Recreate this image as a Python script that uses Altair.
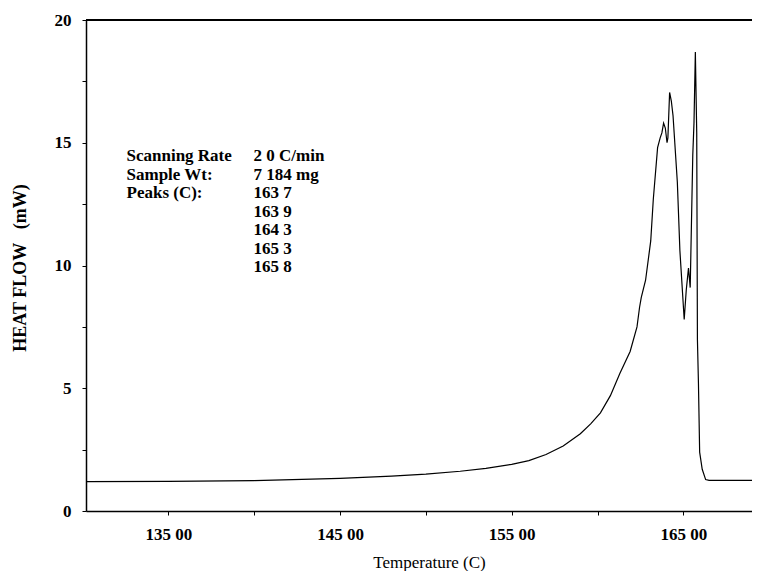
import altair as alt
import pandas as pd

# DSC trace
temperature = [130.2, 135.0, 140.0, 145.0, 148.0, 150.0, 152.0, 153.5, 155.0, 156.0,
               157.0, 158.0, 159.0, 159.6, 160.17, 160.75, 161.3, 161.9, 162.3, 162.45,
               162.55, 162.8, 163.1, 163.25, 163.5, 163.65, 163.75, 163.85, 163.95, 164.05,
               164.1, 164.2, 164.3, 164.4, 164.65, 164.8, 165.05, 165.17, 165.3, 165.4,
               165.55, 165.62, 165.7, 165.78, 165.82, 165.88, 165.95, 166.1, 166.3, 166.5,
               169.0]
heat_flow = [1.20, 1.21, 1.24, 1.33, 1.42, 1.50, 1.62, 1.74, 1.90, 2.05,
             2.30, 2.65, 3.15, 3.55, 4.0, 4.7, 5.6, 6.5, 7.5, 8.3,
             8.7, 9.4, 11.0, 12.7, 14.8, 15.2, 15.4, 15.8, 15.6, 15.0,
             15.2, 17.05, 16.7, 16.1, 13.4, 10.6, 7.8, 9.0, 9.9, 9.1,
             14.5, 15.8, 18.7, 15.4, 7.0, 5.2, 2.4, 1.7, 1.28, 1.25,
             1.25]

x_ticks = [135, 140, 145, 150, 155, 160, 165]
y_ticks = [0, 2.5, 5, 7.5, 10, 12.5, 15, 17.5, 20]

info_left = ["Scanning Rate", "Sample Wt:", "Peaks (C):", "", "", "", ""]
info_right = ["2 0 C/min", "7 184 mg", "163 7", "163 9", "164 3", "165 3", "165 8"]

W, H = 666, 491
X_DOMAIN = [130.2, 169.0]
Y_DOMAIN = [0, 20]
FONT = "Liberation Serif"

curve = pd.DataFrame({"T": temperature, "HF": heat_flow})

row_top = 14.45
row_step = 0.755
info = pd.DataFrame({
    "left": info_left,
    "right": info_right,
    "yv": [row_top - i * row_step for i in range(len(info_left))],
    "x1": [132.56] * len(info_left),
    "x2": [139.96] * len(info_left),
})

x_enc = alt.X(
    "T:Q",
    scale=alt.Scale(domain=X_DOMAIN, nice=False, zero=False),
    axis=alt.Axis(
        values=x_ticks,
        labelExpr="datum.value % 10 == 5 ? datum.value + ' 00' : ''",
        title="Temperature (C)",
        titleX=343, titleY=51, titleAlign="center", titleBaseline="middle",
        titleFont=FONT, titleFontSize=17, titleFontWeight="normal", titleColor="black",
        labelFont=FONT, labelFontSize=17, labelFontWeight="bold", labelColor="black",
        labelPadding=11, labelBaseline="top",
        tickSize=4, tickColor="black", tickWidth=1,
        domainColor="black", domainWidth=1.5, grid=False,
    ),
)
y_enc = alt.Y(
    "HF:Q",
    scale=alt.Scale(domain=Y_DOMAIN, nice=False, zero=False),
    axis=alt.Axis(
        values=y_ticks,
        labelExpr="datum.value % 5 == 0 ? format(datum.value, 'd') : ''",
        title="HEAT FLOW\u00a0\u00a0\u00a0(mW)",
        titleX=-66, titleY=H / 2 + 2, titleAngle=-90, titleAlign="center", titleBaseline="middle",
        titleFont=FONT, titleFontSize=18, titleFontWeight="bold", titleColor="black",
        labelFont=FONT, labelFontSize=17, labelFontWeight="bold", labelColor="black",
        labelPadding=11,
        tickSize=4, tickColor="black", tickWidth=1,
        domainColor="black", domainWidth=1.5, grid=False,
    ),
)

line = alt.Chart(curve).mark_line(color="black", strokeWidth=1.2).encode(x=x_enc, y=y_enc)

top_border = alt.Chart(curve).mark_rule(color="black", strokeWidth=1.5).encode(
    x=alt.value(0), x2=alt.value(W), y=alt.value(0)
)

txt_common = dict(font=FONT, fontSize=17, fontWeight="bold", color="black",
                  align="left", baseline="middle")
left_txt = alt.Chart(info).mark_text(**txt_common).encode(
    x=alt.X("x1:Q", scale=alt.Scale(domain=X_DOMAIN, nice=False, zero=False)),
    y=alt.Y("yv:Q", scale=alt.Scale(domain=Y_DOMAIN, nice=False, zero=False)),
    text="left:N",
)
right_txt = alt.Chart(info).mark_text(**txt_common).encode(
    x=alt.X("x2:Q", scale=alt.Scale(domain=X_DOMAIN, nice=False, zero=False)),
    y=alt.Y("yv:Q", scale=alt.Scale(domain=Y_DOMAIN, nice=False, zero=False)),
    text="right:N",
)

chart = alt.layer(line, top_border, left_txt, right_txt).properties(
    width=W, height=H,
    autosize=alt.AutoSizeParams(type="none"),
    padding={"left": 78, "top": 12, "right": 0, "bottom": 60},
).configure_view(stroke=None).configure(background="white")

chart.save("out.html", embed_options={"renderer": "svg", "actions": False})
